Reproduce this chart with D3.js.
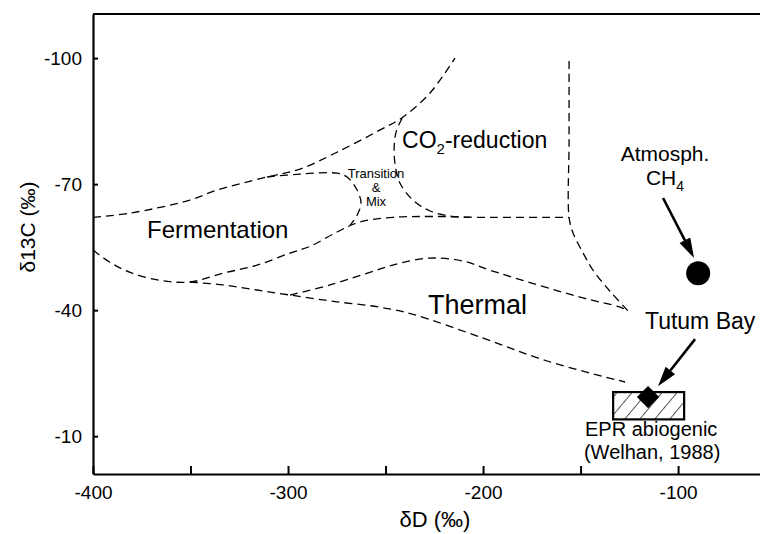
<!DOCTYPE html>
<html>
<head>
<meta charset="utf-8">
<script src="https://cdn.jsdelivr.net/npm/d3@7"></script>
<style>
  body { margin: 0; background: #fff; }
  text { font-family: "Liberation Sans", Arial, Helvetica, sans-serif; fill: #000; }
</style>
</head>
<body>
<div id="chart"></div>
<script>
// field boundaries, points are [dD, d13C]
let fermentationTop = [[-400, -62.1], [-381, -63.1], [-350.3, -66.2], [-336.4, -68.6], [-310.8, -71.7], [-293.8, -73.6],
  [-274.9, -77.6], [-252.8, -82.9], [-241, -86], [-227.2, -91.7], [-214.4, -100]];
let transitionMix = [[-310.8, -71.7], [-293.8, -72.4], [-274.9, -72.6], [-269.7, -71.7], [-264.6, -68.6], [-262.6, -65.5],
  [-264.6, -62.6], [-268.2, -60.2]];
let fermentationBottom = [[-400, -54.3], [-391.3, -51.4], [-381, -49], [-365.6, -47.1], [-350.3, -46.7], [-333.3, -48.8],
  [-315.9, -50.7], [-299, -53.6], [-288.7, -55.2], [-274.9, -58.6], [-263.1, -61], [-246.2, -62.1], [-227, -62.3],
  [-201.5, -62.1], [-155.9, -62.1]];
let co2Left = [[-241.5, -85.7], [-244.6, -82.4], [-245.6, -78.1], [-244.6, -73.3], [-242.1, -69.8], [-235.9, -66.2],
  [-227.2, -63.6], [-216.9, -62.4], [-206.7, -62.1]];
let co2Right = [[-155.9, -99.3], [-155.9, -80], [-155.9, -62.1], [-153.8, -58.3], [-148.7, -53.6], [-143.6, -49.5],
  [-134.9, -44.5], [-125.6, -39.8]];
let thermalTop = [[-299, -43.6], [-278.5, -46], [-252.8, -49.8], [-242.6, -51.2], [-227.2, -52.4], [-210.3, -51.7],
  [-196.4, -49.5], [-150.3, -43.1], [-129.7, -40.7], [-125.6, -39.8]];
let thermalBottom = [[-350.3, -46.7], [-333.3, -46], [-315.9, -44.8], [-299, -43.6], [-276.9, -42.1], [-252.8, -40.7],
  [-235.9, -39], [-201.5, -33.6], [-167.2, -27.9], [-127.2, -22.9]];

// samples
let atmosphCH4 = [-89.7, -48.8];
let tutumBay = [-115.4, -19.3];
let eprBox = { x: [-133.3, -96.9], y: [-20.5, -14.0] };

// arrows [from, to]
let arrows = [
  [[-107.7, -66.7], [-91.8, -52.4]],
  [[-91.3, -33.1], [-110.3, -21.9]]
];

let xTicks = [-400, -350, -300, -250, -200, -150, -100];
let xLabels = [-400, -300, -200, -100];
let yTicks = [-100, -70, -40, -10];

let width = 760;
let height = 534;

let xScale = d3.scaleLinear().domain([-400, -58]).range([93, 760]);
let yScale = d3.scaleLinear().domain([-110.5, -1]).range([14, 474]);

let svg = d3.select("#chart")
  .append("svg")
  .attr("width", width)
  .attr("height", height);

// hatch for the EPR box
svg.append("defs")
  .append("pattern")
  .attr("id", "hatch")
  .attr("patternUnits", "userSpaceOnUse")
  .attr("width", 11.5)
  .attr("height", 11.5)
  .attr("patternTransform", "rotate(40)")
  .append("line")
  .attr("x1", 0).attr("y1", 0)
  .attr("x2", 0).attr("y2", 11.5)
  .attr("stroke", "#000")
  .attr("stroke-width", 1.3);

let line = d3.line()
  .x(d => xScale(d[0]))
  .y(d => yScale(d[1]))
  .curve(d3.curveCatmullRom.alpha(0.5));

let boundaries = [fermentationTop, transitionMix, fermentationBottom, co2Left, co2Right, thermalTop, thermalBottom];
svg.selectAll(".boundary")
  .data(boundaries)
  .enter()
  .append("path")
  .attr("class", "boundary")
  .attr("d", line)
  .attr("fill", "none")
  .attr("stroke", "#000")
  .attr("stroke-width", 1.3)
  .attr("stroke-dasharray", "8,5");

// axes (plain hyphen for the minus sign, like the original)
let xAxis = d3.axisBottom(xScale)
  .tickValues(xTicks)
  .tickFormat(d => xLabels.includes(d) ? String(d) : "")
  .tickSize(-8)
  .tickSizeOuter(0)
  .tickPadding(12);

let yAxis = d3.axisLeft(yScale)
  .tickValues(yTicks)
  .tickFormat(d => String(d))
  .tickSize(-5)
  .tickSizeOuter(0)
  .tickPadding(11);

let gx = svg.append("g")
  .attr("transform", "translate(0," + yScale.range()[1] + ")")
  .call(xAxis);
let gy = svg.append("g")
  .attr("transform", "translate(" + xScale.range()[0] + ",0)")
  .call(yAxis);

[gx, gy].forEach(g => {
  g.select(".domain").attr("stroke-width", 2.2);
  g.selectAll(".tick line").attr("stroke-width", 2);
  g.selectAll(".tick text")
    .attr("font-size", "19px")
    .attr("font-family", "Liberation Sans, Arial, sans-serif")
    .attr("fill", "#000");
});

// top frame line
svg.append("line")
  .attr("x1", xScale.range()[0])
  .attr("x2", xScale.range()[1])
  .attr("y1", yScale.range()[0])
  .attr("y2", yScale.range()[0])
  .attr("stroke", "#000")
  .attr("stroke-width", 2.2);

svg.append("text")
  .attr("transform", "translate(35," + 227 + ") rotate(-90)")
  .attr("text-anchor", "middle")
  .attr("font-size", "21px")
  .text("δ13C (‰)");

svg.append("text")
  .attr("x", 435)
  .attr("y", 527)
  .attr("text-anchor", "middle")
  .attr("font-size", "22px")
  .text("δD (‰)");

// EPR box
svg.append("rect")
  .attr("x", xScale(eprBox.x[0]))
  .attr("y", yScale(eprBox.y[0]))
  .attr("width", xScale(eprBox.x[1]) - xScale(eprBox.x[0]))
  .attr("height", yScale(eprBox.y[1]) - yScale(eprBox.y[0]))
  .attr("fill", "url(#hatch)")
  .attr("stroke", "#000")
  .attr("stroke-width", 2.2);

// markers
svg.append("circle")
  .attr("cx", xScale(atmosphCH4[0]))
  .attr("cy", yScale(atmosphCH4[1]))
  .attr("r", 12)
  .attr("fill", "#000");

svg.append("path")
  .attr("d", d3.symbol().type(d3.symbolSquare).size(250)())
  .attr("transform", "translate(" + xScale(tutumBay[0]) + "," + yScale(tutumBay[1]) + ") rotate(45)")
  .attr("fill", "#000");

// arrows
arrows.forEach(a => {
  let x1 = xScale(a[0][0]), y1 = yScale(a[0][1]);
  let x2 = xScale(a[1][0]), y2 = yScale(a[1][1]);
  let ang = Math.atan2(y2 - y1, x2 - x1);
  let len = 20, half = 6;
  let bx = x2 - len * Math.cos(ang), by = y2 - len * Math.sin(ang);
  svg.append("line")
    .attr("x1", x1).attr("y1", y1)
    .attr("x2", bx).attr("y2", by)
    .attr("stroke", "#000")
    .attr("stroke-width", 2.6);
  svg.append("path")
    .attr("d", "M" + x2 + "," + y2 +
      "L" + (bx + half * Math.sin(ang)) + "," + (by - half * Math.cos(ang)) +
      "L" + (bx - half * Math.sin(ang)) + "," + (by + half * Math.cos(ang)) + "Z")
    .attr("fill", "#000");
});

// region labels
svg.append("text")
  .attr("x", xScale(-372.3))
  .attr("y", yScale(-57.1))
  .attr("font-size", "24px")
  .text("Fermentation");

svg.append("text")
  .attr("x", xScale(-228.2))
  .attr("y", yScale(-39))
  .attr("font-size", "27px")
  .text("Thermal");

let co2 = svg.append("text")
  .attr("x", xScale(-241.5))
  .attr("y", yScale(-78.6))
  .attr("font-size", "23px");
co2.append("tspan").text("CO");
co2.append("tspan").attr("font-size", "15px").attr("dy", 6).text("2");
co2.append("tspan").attr("dy", -6).text("-reduction");

let trans = ["Transition", "&", "Mix"];
let transY = [-71.4, -68.1, -64.8];
trans.forEach((t, i) => {
  svg.append("text")
    .attr("x", xScale(-254.9))
    .attr("y", yScale(transY[i]))
    .attr("text-anchor", "middle")
    .attr("font-size", "13px")
    .text(t);
});

svg.append("text")
  .attr("x", xScale(-106.7))
  .attr("y", yScale(-75.5))
  .attr("text-anchor", "middle")
  .attr("font-size", "21px")
  .text("Atmosph.");

let ch4 = svg.append("text")
  .attr("x", xScale(-106.7))
  .attr("y", yScale(-69.8))
  .attr("text-anchor", "middle")
  .attr("font-size", "21px");
ch4.append("tspan").text("CH");
ch4.append("tspan").attr("font-size", "14px").attr("dy", 6).text("4");

svg.append("text")
  .attr("x", xScale(-88.7))
  .attr("y", yScale(-35.5))
  .attr("text-anchor", "middle")
  .attr("font-size", "23px")
  .text("Tutum Bay");

svg.append("text")
  .attr("x", xScale(-113.8))
  .attr("y", yScale(-10))
  .attr("text-anchor", "middle")
  .attr("font-size", "20px")
  .text("EPR abiogenic");

svg.append("text")
  .attr("x", xScale(-113.3))
  .attr("y", yScale(-4.6))
  .attr("text-anchor", "middle")
  .attr("font-size", "20px")
  .text("(Welhan, 1988)");
</script>
</body>
</html>
